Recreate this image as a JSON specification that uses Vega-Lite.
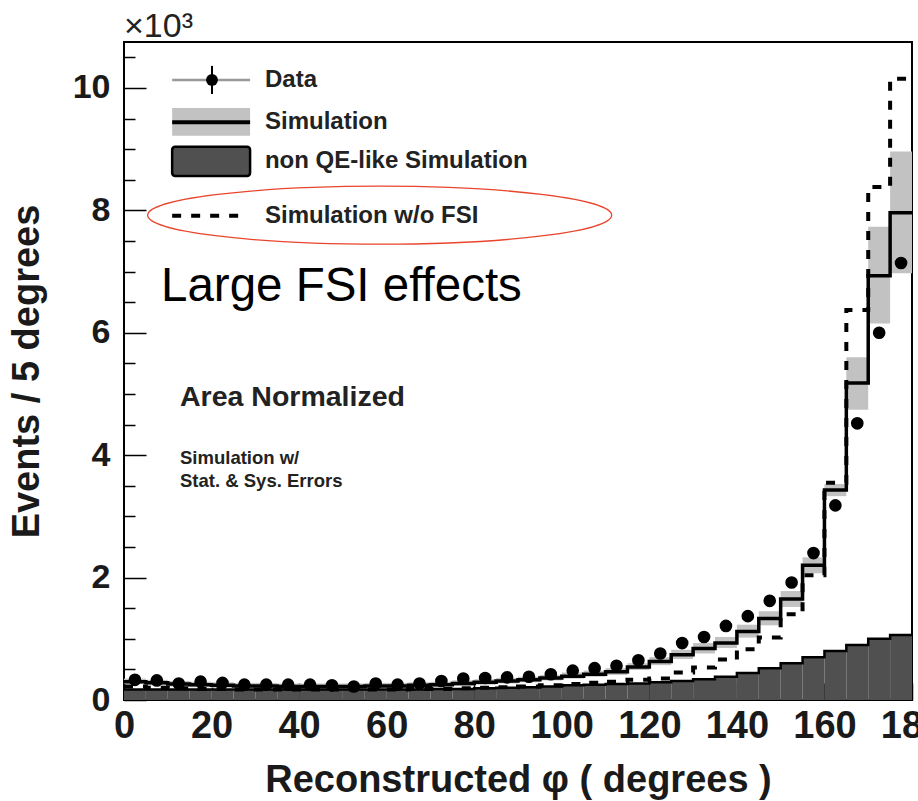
{
  "$schema": "https://vega.github.io/schema/vega-lite/v6.json",
  "width": 788,
  "height": 658,
  "autosize": {"type": "none"},
  "padding": {"left": 124, "top": 42, "right": 6, "bottom": 101},
  "background": "white",
  "config": {
    "view": {"stroke": "black", "strokeWidth": 2},
    "axis": {"domain": false, "grid": false, "zindex": 1, "tickColor": "black", "tickWidth": 1.5, "labelColor": "#1a1a1a", "titleColor": "#1a1a1a"}
  },
  "datasets": {
    "hist": [
      {"lo":0,"hi":5,"phi":2.5,"data":0.33,"sim":0.30,"simLo":0.26,"simHi":0.35,"nonqe":0.17,"nofsi":0.22},
      {"lo":5,"hi":10,"phi":7.5,"data":0.32,"sim":0.28,"simLo":0.24,"simHi":0.33,"nonqe":0.17,"nofsi":0.20},
      {"lo":10,"hi":15,"phi":12.5,"data":0.27,"sim":0.26,"simLo":0.22,"simHi":0.31,"nonqe":0.17,"nofsi":0.19},
      {"lo":15,"hi":20,"phi":17.5,"data":0.30,"sim":0.25,"simLo":0.21,"simHi":0.30,"nonqe":0.17,"nofsi":0.18},
      {"lo":20,"hi":25,"phi":22.5,"data":0.28,"sim":0.24,"simLo":0.20,"simHi":0.29,"nonqe":0.17,"nofsi":0.18},
      {"lo":25,"hi":30,"phi":27.5,"data":0.25,"sim":0.23,"simLo":0.19,"simHi":0.28,"nonqe":0.17,"nofsi":0.17},
      {"lo":30,"hi":35,"phi":32.5,"data":0.25,"sim":0.23,"simLo":0.19,"simHi":0.28,"nonqe":0.17,"nofsi":0.17},
      {"lo":35,"hi":40,"phi":37.5,"data":0.25,"sim":0.22,"simLo":0.18,"simHi":0.27,"nonqe":0.17,"nofsi":0.17},
      {"lo":40,"hi":45,"phi":42.5,"data":0.25,"sim":0.22,"simLo":0.18,"simHi":0.27,"nonqe":0.17,"nofsi":0.17},
      {"lo":45,"hi":50,"phi":47.5,"data":0.24,"sim":0.22,"simLo":0.18,"simHi":0.27,"nonqe":0.17,"nofsi":0.17},
      {"lo":50,"hi":55,"phi":52.5,"data":0.22,"sim":0.22,"simLo":0.18,"simHi":0.27,"nonqe":0.17,"nofsi":0.17},
      {"lo":55,"hi":60,"phi":57.5,"data":0.27,"sim":0.23,"simLo":0.19,"simHi":0.28,"nonqe":0.17,"nofsi":0.17},
      {"lo":60,"hi":65,"phi":62.5,"data":0.25,"sim":0.23,"simLo":0.19,"simHi":0.28,"nonqe":0.17,"nofsi":0.17},
      {"lo":65,"hi":70,"phi":67.5,"data":0.27,"sim":0.24,"simLo":0.20,"simHi":0.29,"nonqe":0.17,"nofsi":0.18},
      {"lo":70,"hi":75,"phi":72.5,"data":0.31,"sim":0.25,"simLo":0.21,"simHi":0.30,"nonqe":0.18,"nofsi":0.18},
      {"lo":75,"hi":80,"phi":77.5,"data":0.35,"sim":0.27,"simLo":0.23,"simHi":0.32,"nonqe":0.18,"nofsi":0.19},
      {"lo":80,"hi":85,"phi":82.5,"data":0.36,"sim":0.29,"simLo":0.25,"simHi":0.34,"nonqe":0.19,"nofsi":0.20},
      {"lo":85,"hi":90,"phi":87.5,"data":0.37,"sim":0.31,"simLo":0.27,"simHi":0.36,"nonqe":0.20,"nofsi":0.21},
      {"lo":90,"hi":95,"phi":92.5,"data":0.38,"sim":0.33,"simLo":0.29,"simHi":0.38,"nonqe":0.21,"nofsi":0.22},
      {"lo":95,"hi":100,"phi":97.5,"data":0.42,"sim":0.36,"simLo":0.32,"simHi":0.41,"nonqe":0.22,"nofsi":0.24},
      {"lo":100,"hi":105,"phi":102.5,"data":0.48,"sim":0.39,"simLo":0.35,"simHi":0.45,"nonqe":0.24,"nofsi":0.26},
      {"lo":105,"hi":110,"phi":107.5,"data":0.52,"sim":0.42,"simLo":0.38,"simHi":0.48,"nonqe":0.25,"nofsi":0.28},
      {"lo":110,"hi":115,"phi":112.5,"data":0.56,"sim":0.46,"simLo":0.41,"simHi":0.52,"nonqe":0.26,"nofsi":0.30},
      {"lo":115,"hi":120,"phi":117.5,"data":0.65,"sim":0.54,"simLo":0.49,"simHi":0.60,"nonqe":0.27,"nofsi":0.33},
      {"lo":120,"hi":125,"phi":122.5,"data":0.76,"sim":0.63,"simLo":0.57,"simHi":0.70,"nonqe":0.29,"nofsi":0.35},
      {"lo":125,"hi":130,"phi":127.5,"data":0.93,"sim":0.74,"simLo":0.67,"simHi":0.82,"nonqe":0.31,"nofsi":0.45},
      {"lo":130,"hi":135,"phi":132.5,"data":1.03,"sim":0.84,"simLo":0.76,"simHi":0.93,"nonqe":0.34,"nofsi":0.53},
      {"lo":135,"hi":140,"phi":137.5,"data":1.21,"sim":0.93,"simLo":0.85,"simHi":1.03,"nonqe":0.38,"nofsi":0.66},
      {"lo":140,"hi":145,"phi":142.5,"data":1.37,"sim":1.12,"simLo":1.02,"simHi":1.23,"nonqe":0.44,"nofsi":0.83},
      {"lo":145,"hi":150,"phi":147.5,"data":1.62,"sim":1.33,"simLo":1.22,"simHi":1.45,"nonqe":0.52,"nofsi":1.02},
      {"lo":150,"hi":155,"phi":152.5,"data":1.92,"sim":1.65,"simLo":1.52,"simHi":1.78,"nonqe":0.60,"nofsi":1.40},
      {"lo":155,"hi":160,"phi":157.5,"data":2.40,"sim":2.20,"simLo":2.07,"simHi":2.33,"nonqe":0.70,"nofsi":2.04},
      {"lo":160,"hi":165,"phi":162.5,"data":3.18,"sim":3.43,"simLo":3.33,"simHi":3.53,"nonqe":0.80,"nofsi":3.55},
      {"lo":165,"hi":170,"phi":167.5,"data":4.52,"sim":5.18,"simLo":4.74,"simHi":5.60,"nonqe":0.90,"nofsi":6.37},
      {"lo":170,"hi":175,"phi":172.5,"data":6.00,"sim":6.93,"simLo":6.15,"simHi":7.73,"nonqe":1.00,"nofsi":8.38},
      {"lo":175,"hi":180,"phi":177.5,"data":7.14,"sim":7.96,"simLo":6.97,"simHi":8.96,"nonqe":1.06,"nofsi":10.15}
    ]
  },
  "data": {"name": "hist"},
  "resolve": {"axis": {"y": "independent"}},
  "layer": [
    {
      "layer": [
        {
          "mark": {"type": "rect", "fill": "#c2c2c2"},
          "encoding": {
            "x": {"field": "lo", "type": "quantitative", "scale": {"domain": [0, 180], "nice": false, "zero": false},
              "axis": {"values": [0,20,40,60,80,100,120,140,160,180], "format": "d", "tickSize": -17, "labelPadding": 24, "labelFlush": false, "labelOverlap": false,
                "labelFont": "Liberation Sans", "labelFontWeight": "bold", "labelFontSize": 38,
                "title": "Reconstructed φ ( degrees )", "titleFont": "Liberation Sans", "titleFontWeight": "bold", "titleFontSize": 38, "titlePadding": 16}},
            "x2": {"field": "hi"},
            "y": {"field": "simLo", "type": "quantitative", "scale": {"domain": [0, 10.75], "nice": false, "zero": true},
              "axis": {"orient": "left", "values": [0,2,4,6,8,10], "format": "d", "tickSize": -22, "labelPadding": 36,
                "labelFont": "Liberation Sans", "labelFontWeight": "bold", "labelFontSize": 34,
                "title": "Events / 5 degrees", "titleFont": "Liberation Sans", "titleFontWeight": "bold", "titleFontSize": 38, "titlePadding": 26}},
            "y2": {"field": "simHi"}
          }
        },
        {
          "mark": {"type": "rect", "fill": "#505050"},
          "encoding": {
            "x": {"field": "lo", "type": "quantitative"},
            "x2": {"field": "hi"},
            "y": {"field": "nonqe", "type": "quantitative"},
            "y2": {"datum": 0}
          }
        },
        {
          "transform": [{"fold": ["lo", "hi"], "as": ["edge", "px"]}],
          "mark": {"type": "line", "color": "black", "strokeWidth": 2.5, "strokeJoin": "miter", "strokeCap": "butt"},
          "encoding": {
            "x": {"field": "px", "type": "quantitative"},
            "y": {"field": "nonqe", "type": "quantitative"},
            "order": [{"field": "px", "type": "quantitative"}, {"field": "edge", "type": "nominal"}]
          }
        },
        {
          "transform": [{"fold": ["lo", "hi"], "as": ["edge", "px"]}],
          "mark": {"type": "line", "color": "black", "strokeWidth": 3.5, "strokeJoin": "miter", "strokeCap": "butt"},
          "encoding": {
            "x": {"field": "px", "type": "quantitative"},
            "y": {"field": "sim", "type": "quantitative"},
            "order": [{"field": "px", "type": "quantitative"}, {"field": "edge", "type": "nominal"}]
          }
        },
        {
          "transform": [{"fold": ["lo", "hi"], "as": ["edge", "px"]}],
          "mark": {"type": "line", "color": "black", "strokeWidth": 4, "strokeDash": [9, 10], "strokeJoin": "miter", "strokeCap": "butt"},
          "encoding": {
            "x": {"field": "px", "type": "quantitative"},
            "y": {"field": "nofsi", "type": "quantitative"},
            "order": [{"field": "px", "type": "quantitative"}, {"field": "edge", "type": "nominal"}]
          }
        },
        {
          "data": {"values": [{}]},
          "mark": {"type": "rule", "color": "#999999", "strokeWidth": 2.5},
          "encoding": {"x": {"datum": 11}, "x2": {"datum": 28.8}, "y": {"datum": 10.13}}
        },
        {
          "data": {"values": [{}]},
          "mark": {"type": "rule", "color": "black", "strokeWidth": 2},
          "encoding": {"x": {"datum": 20.1}, "y": {"datum": 9.9}, "y2": {"datum": 10.36}}
        },
        {
          "data": {"values": [{}]},
          "mark": {"type": "point", "shape": "circle", "filled": true, "color": "black", "opacity": 1, "size": 140},
          "encoding": {"x": {"datum": 20.1}, "y": {"datum": 10.13}}
        },
        {
          "data": {"values": [{}]},
          "mark": {"type": "rect", "fill": "#c2c2c2"},
          "encoding": {"x": {"datum": 11}, "x2": {"datum": 28.8}, "y": {"datum": 9.22}, "y2": {"datum": 9.67}}
        },
        {
          "data": {"values": [{}]},
          "mark": {"type": "rule", "color": "black", "strokeWidth": 4},
          "encoding": {"x": {"datum": 11}, "x2": {"datum": 28.8}, "y": {"datum": 9.44}}
        },
        {
          "data": {"values": [{}]},
          "mark": {"type": "rect", "fill": "#505050", "stroke": "black", "strokeWidth": 2.5, "cornerRadius": 3},
          "encoding": {"x": {"datum": 11}, "x2": {"datum": 28.8}, "y": {"datum": 8.56}, "y2": {"datum": 9.04}}
        },
        {
          "data": {"values": [{}]},
          "mark": {"type": "rule", "color": "black", "strokeWidth": 4, "strokeDash": [9, 10]},
          "encoding": {"x": {"datum": 11}, "x2": {"datum": 26.9}, "y": {"datum": 7.91}}
        },
        {
          "data": {"values": [{}]},
          "mark": {"type": "text", "text": "Data", "align": "left", "baseline": "middle", "font": "Liberation Sans", "fontWeight": "bold", "fontSize": 24, "color": "#222222"},
          "encoding": {"x": {"datum": 32.2}, "y": {"datum": 10.13}}
        },
        {
          "data": {"values": [{}]},
          "mark": {"type": "text", "text": "Simulation", "align": "left", "baseline": "middle", "font": "Liberation Sans", "fontWeight": "bold", "fontSize": 24, "color": "#222222"},
          "encoding": {"x": {"datum": 32.2}, "y": {"datum": 9.44}}
        },
        {
          "data": {"values": [{}]},
          "mark": {"type": "text", "text": "non QE-like Simulation", "align": "left", "baseline": "middle", "font": "Liberation Sans", "fontWeight": "bold", "fontSize": 24, "color": "#222222"},
          "encoding": {"x": {"datum": 32.2}, "y": {"datum": 8.81}}
        },
        {
          "data": {"values": [{}]},
          "mark": {"type": "text", "text": "Simulation w/o FSI", "align": "left", "baseline": "middle", "font": "Liberation Sans", "fontWeight": "bold", "fontSize": 24, "color": "#222222"},
          "encoding": {"x": {"datum": 32.2}, "y": {"datum": 7.91}}
        },
        {
          "data": {"values": [{}]},
          "mark": {"type": "point", "shape": "M-1,0 C-1,-0.069 -0.552,-0.125 0,-0.125 C0.552,-0.125 1,-0.069 1,0 C1,0.069 0.552,0.125 0,0.125 C-0.552,0.125 -1,0.069 -1,0 Z", "filled": false, "stroke": "#e8452c", "strokeWidth": 1.3, "opacity": 1, "size": 215296},
          "encoding": {"x": {"datum": 58.4}, "y": {"datum": 7.92}}
        },
        {
          "data": {"values": [{}]},
          "mark": {"type": "text", "text": "Large FSI effects", "align": "left", "baseline": "alphabetic", "font": "Liberation Sans", "fontSize": 47.5, "color": "black"},
          "encoding": {"x": {"datum": 8.45}, "y": {"datum": 6.52}}
        },
        {
          "data": {"values": [{}]},
          "mark": {"type": "text", "text": "Area Normalized", "align": "left", "baseline": "alphabetic", "font": "Liberation Sans", "fontWeight": "bold", "fontSize": 28.5, "color": "#222222"},
          "encoding": {"x": {"datum": 12.8}, "y": {"datum": 4.8}}
        },
        {
          "data": {"values": [{}]},
          "mark": {"type": "text", "text": "Simulation w/", "align": "left", "baseline": "alphabetic", "font": "Liberation Sans", "fontWeight": "bold", "fontSize": 18.5, "color": "#222222"},
          "encoding": {"x": {"datum": 12.8}, "y": {"datum": 3.86}}
        },
        {
          "data": {"values": [{}]},
          "mark": {"type": "text", "text": "Stat. & Sys. Errors", "align": "left", "baseline": "alphabetic", "font": "Liberation Sans", "fontWeight": "bold", "fontSize": 18.5, "color": "#222222"},
          "encoding": {"x": {"datum": 12.8}, "y": {"datum": 3.48}}
        },
        {
          "data": {"values": [{}]},
          "mark": {"type": "text", "text": "×10³", "align": "left", "baseline": "alphabetic", "font": "Liberation Sans", "fontSize": 34, "color": "#222222"},
          "encoding": {"x": {"datum": 0}, "y": {"datum": 10.83}}
        }
      ]
    },
    {
      "mark": {"type": "point", "shape": "circle", "filled": true, "color": "black", "opacity": 1, "size": 160},
      "encoding": {
        "x": {"field": "phi", "type": "quantitative"},
        "y": {"field": "data", "type": "quantitative",
          "axis": {"orient": "left", "values": [0.5,1,1.5,2.5,3,3.5,4.5,5,5.5,6.5,7,7.5,8.5,9,9.5,10.5], "tickSize": -11, "labels": false, "title": null, "domain": false}}
      }
    }
  ]
}
